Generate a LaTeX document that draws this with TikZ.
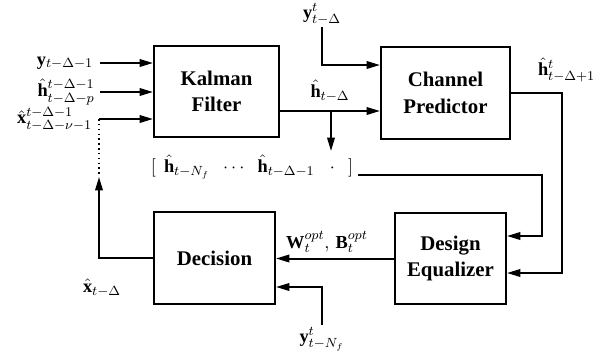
\documentclass[tikz,border=0pt]{standalone}
\usepackage{fontspec}
\setmainfont{Liberation Serif}
\usepackage{amsmath}
\usetikzlibrary{arrows.meta, positioning}
\tikzstyle{block} = [draw=black, line width=1.2pt, minimum height=55pt,
align=center, font=\fontsize{12.5}{16}\selectfont\bfseries]
\tikzstyle{arrow} = [line width=1.2pt, -{Triangle[length=8pt,width=4.5pt]}]

\begin{document}
\begin{tikzpicture}[
        x=0.6pt, y=-0.6pt,
        lbl/.style={inner sep=1pt, font=\fontsize{11}{13}\selectfont},
    ]
        \useasboundingbox (0,0) rectangle (601,360);

        % processing blocks
        \node[block, minimum width=75pt] (kalman) at (216.5,91.5) {Kalman\\Filter};
        \node[block, minimum width=77.4pt] (channel) at (445.5,93) {Channel\\Predictor};
        \node[block, minimum width=66.6pt] (equal) at (450.5,258.5) {Design\\Equalizer};
        \node[block, minimum width=72.6pt] (decision) at (214.5,258) {Decision};

        % inputs of the Kalman filter
        \coordinate (in1) at (100,63);
        \coordinate (in2) at (100,92);
        \coordinate (in3) at (99,119);
        \coordinate (fb) at (99,177);
        \node[lbl, left=3pt of in1] (ylag) {$\mathbf{y}_{t-\Delta-1}$};
        \node[lbl, left=2pt of in2] (hlag) {$\hat{\mathbf{h}}^{t-\Delta-1}_{t-\Delta-p}$};
        \node[lbl, left=3pt of in3] (xlag) {$\hat{\mathbf{x}}^{t-\Delta-1}_{t-\Delta-\nu-1}$};
        \draw[arrow] (in1) -- (in1 -| kalman.west);
        \draw[arrow] (in2) -- (in2 -| kalman.west);
        \draw[arrow] (in3) -- (in3 -| kalman.west);
        \draw[dotted, line width=0.9pt] (in3) -- (fb);

        % channel predictor
        \node[lbl] (ytop) at (322,14) {$\mathbf{y}^{t}_{t-\Delta}$};
        \draw[arrow] (ytop.south) |- ([yshift=16.8pt]channel.west);
        \coordinate (tap) at (331,111);
        \coordinate (tapend) at (331,151);
        \draw[arrow] (tap -| kalman.east) -- (tap -| channel.west);
        \draw[arrow] (tap) -- (tapend);
        \node[lbl, anchor=south] (hest) at (330,104) {$\hat{\mathbf{h}}_{t-\Delta}$};
        \node[lbl, anchor=west] (hpred) at (536,70) {$\hat{\mathbf{h}}^{t}_{t-\Delta+1}$};
        \draw[arrow] (channel.east) -- ++(51,0) |- ([yshift=-8.7pt]equal.east);

        % stacked channel estimates
        \node[lbl] (hist) at (252,167) {$[\;\, \hat{\mathbf{h}}_{t-N_f} \;\;\cdots\;\; \hat{\mathbf{h}}_{t-\Delta-1} \;\;\;\cdot\;\;\, ]$};
        \coordinate (hs) at (358,175);
        \draw[arrow] (hs) -- ++(184,0) |- ([yshift=13.5pt]equal.east);

        % equalizer and decision
        \draw[arrow] (equal.west) -- (equal.west -| decision.east);
        \node[lbl] (wopt) at (327,242) {$\mathbf{W}^{opt}_{t},\, \mathbf{B}^{opt}_{t}$};
        \node[lbl] (ybot) at (322,339) {$\mathbf{y}^{t}_{t-N_f}$};
        \draw[arrow] (ybot.north) |- ([yshift=-17.4pt]decision.east);
        \draw[arrow] (decision.west) -| (fb);
        \node[lbl] (xdec) at (102,288) {$\hat{\mathbf{x}}_{t-\Delta}$};
    \end{tikzpicture}
\end{document}
